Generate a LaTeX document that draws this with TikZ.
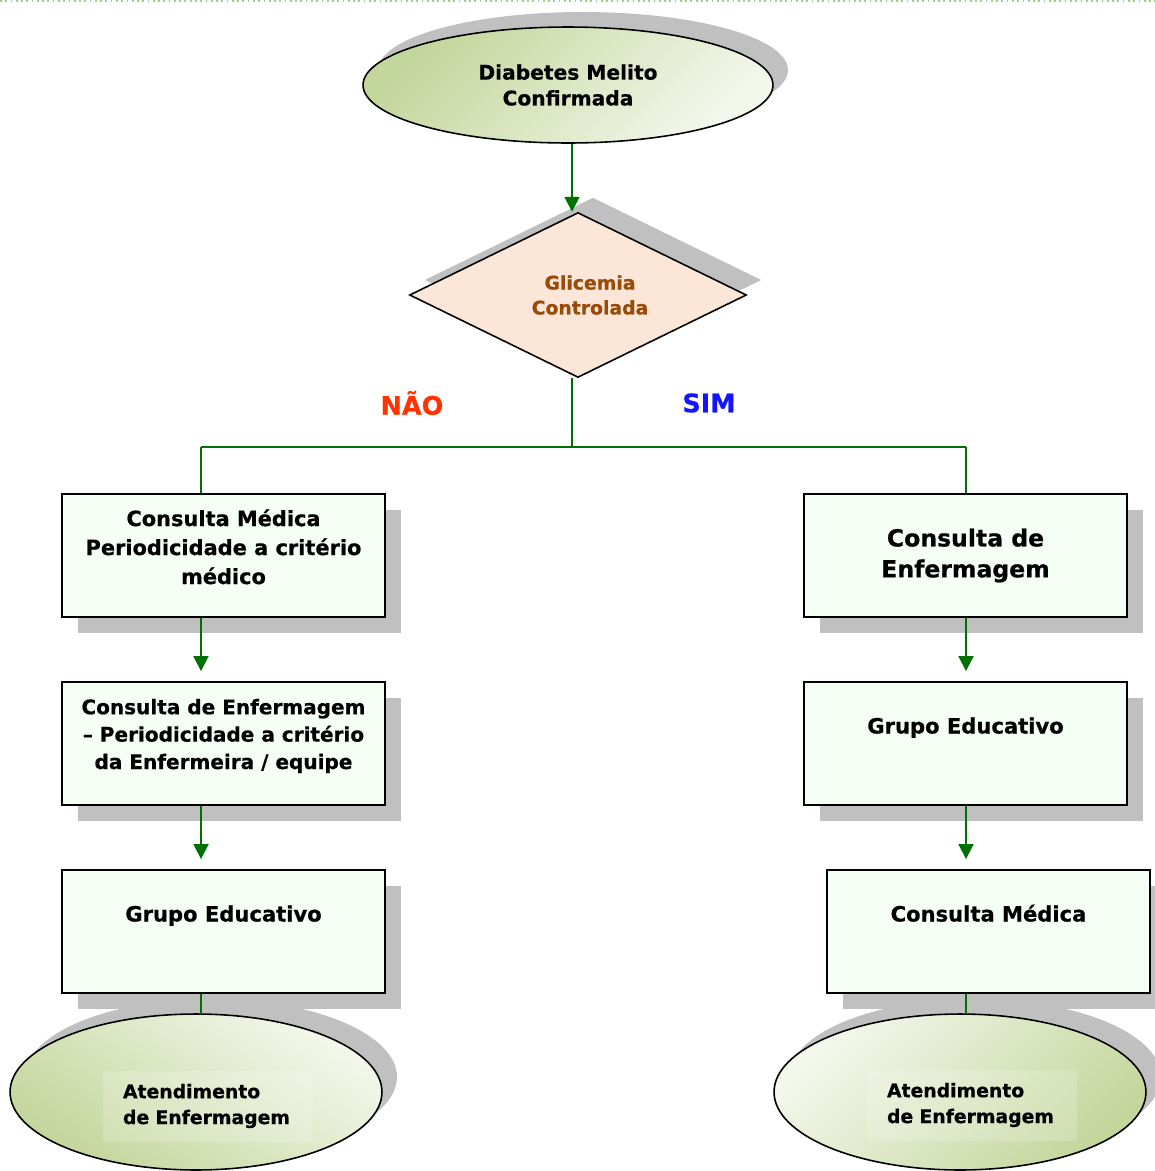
\documentclass[tikz,border=0pt]{standalone}
\usepackage{fontspec}
\setmainfont{DejaVu Sans}[BoldFeatures={FakeBold=0.6}]
\usetikzlibrary{
  positioning,
  arrows.meta,
  shapes.geometric,
  shadows
}

\definecolor{flowgreen}{RGB}{0,112,0}
\definecolor{ellgreen}{RGB}{195,214,155}
\definecolor{ellpale}{RGB}{244,247,236}
\definecolor{boxfill}{RGB}{245,255,245}
\definecolor{shadowgray}{RGB}{192,192,192}
\definecolor{decfill}{RGB}{251,230,215}
\definecolor{dectext}{RGB}{153,76,10}
\definecolor{naored}{RGB}{255,51,0}
\definecolor{simblue}{RGB}{20,20,255}
\definecolor{borderdots}{RGB}{160,205,135}

\begin{document}
\begin{tikzpicture}[
  x=0.02cm, y=-0.02cm,
  font=\bfseries,
  terminal/.style={
    ellipse,
    draw=black,
    line width=0.9pt,
    inner sep=0pt,
    align=center,
    general shadow={fill=shadowgray, shadow xshift=0.3cm, shadow yshift=0.3cm}
  },
  decision/.style={
    diamond,
    aspect=2.04,
    draw=black,
    line width=0.9pt,
    fill=decfill,
    inner sep=0pt,
    align=center,
    text=dectext,
    font=\bfseries\fontsize{10.7}{14.2}\selectfont,
    general shadow={fill=shadowgray, shadow xshift=0.3cm, shadow yshift=0.3cm}
  },
  stepbox/.style={
    rectangle,
    draw=black,
    line width=1.1pt,
    fill=boxfill,
    minimum width=6.46cm,
    minimum height=2.46cm,
    inner sep=0pt,
    align=center,
    general shadow={fill=shadowgray, shadow xshift=0.32cm, shadow yshift=-0.32cm}
  },
  toptext/.style={
    text height=0.35cm,
    text depth=0.75cm
  },
  notebox/.style={
    rectangle,
    fill=white,
    fill opacity=0.18,
    text opacity=1,
    minimum width=4.2cm,
    minimum height=1.42cm,
    text width=3.4cm,
    inner xsep=0.4cm,
    inner ysep=0pt,
    align=left,
    font=\bfseries\fontsize{10.7}{14.7}\selectfont
  },
  answer/.style={
    font=\bfseries\fontsize{14.5}{16}\selectfont
  },
  flow/.style={
    draw=flowgreen,
    line width=1.1pt
  },
  arrow/.style={
    flow,
    -{Triangle[width=8.5pt,length=8.5pt]},
    shorten >=0.2cm
  }
]

\useasboundingbox (0,0) rectangle (1155,1171);
\draw[borderdots, dotted, line width=1pt] (0,1) -- (1155,1);

% Start and decision
\node[terminal, minimum width=8.2cm, minimum height=2.32cm,
  top color=ellgreen, bottom color=ellpale, shading angle=45,
  font=\bfseries\fontsize{11.5}{14.7}\selectfont] (diag) at (568,85) {Diabetes Melito\\Confirmada};
\node[decision, minimum width=6.74cm, minimum height=3.3cm] (glic) at (578,295) {\hspace*{0.48cm}Glicemia\\\hspace*{0.48cm}Controlada};

\node[answer, text=naored] (nao) at (412,403) {NÃO};
\node[answer, text=simblue] (sim) at (709,403) {SIM};

% Left column (NAO)
\node[stepbox, text height=1.24cm, text depth=0.1cm, font=\bfseries\fontsize{11.9}{16.5}\selectfont] (lbox1) at (223.5,555.5) {Consulta Médica\\Periodicidade a critério\\médico};
\node[stepbox, text height=1.12cm, text depth=0.1cm, font=\bfseries\fontsize{11.4}{15.6}\selectfont] (lbox2) at (223.5,743.5) {Consulta de Enfermagem\\– Periodicidade a critério\\da Enfermeira / equipe};
\node[stepbox, toptext, font=\bfseries\fontsize{12}{15}\selectfont] (lbox3) at (223.5,931.5) {Grupo Educativo};

% Right column (SIM)
\node[stepbox, font=\bfseries\fontsize{13.4}{17.6}\selectfont] (rbox1) at (965.5,555.5) {Consulta de\\Enfermagem};
\node[stepbox, toptext, font=\bfseries\fontsize{12}{15}\selectfont] (rbox2) at (965.5,743.5) {Grupo Educativo};
\node[stepbox, toptext, font=\bfseries\fontsize{12}{15}\selectfont] (rbox3) at (988.5,931.5) {Consulta Médica};

% End nodes
\node[terminal, minimum width=7.44cm, minimum height=3.12cm,
  top color=ellpale, bottom color=ellgreen, shading angle=-35] (lend) at (196,1092) {};
\node[notebox] (lnote) at (208,1106) {Atendimento\\de Enfermagem};
\node[terminal, minimum width=7.44cm, minimum height=3.12cm,
  top color=ellpale, bottom color=ellgreen, shading angle=45] (rend) at (960,1092) {};
\node[notebox] (rnote) at (972,1105) {Atendimento\\de Enfermagem};

% Connectors
\coordinate (split) at (572,447);
\coordinate (lcol) at (201,447);
\coordinate (rcol) at (966,447);

\draw[arrow, shorten >=0pt] (split |- diag.south) -- (split |- glic.north);
\draw[flow] (split |- glic.south) -- (split);
\draw[flow] (lcol) -- (rcol);
\draw[flow] (lcol) -- (lcol |- lbox1.north);
\draw[flow] (rcol) -- (rcol |- rbox1.north);

\draw[arrow] (lcol |- lbox1.south) -- (lcol |- lbox2.north);
\draw[arrow] (lcol |- lbox2.south) -- (lcol |- lbox3.north);
\draw[arrow] (rcol |- rbox1.south) -- (rcol |- rbox2.north);
\draw[arrow] (rcol |- rbox2.south) -- (rcol |- rbox3.north);

\draw[flow] (lcol |- lbox3.south) -- (lcol |- lend.north);
\draw[flow] (rcol |- rbox3.south) -- (rcol |- rend.north);

\end{tikzpicture}
\end{document}
